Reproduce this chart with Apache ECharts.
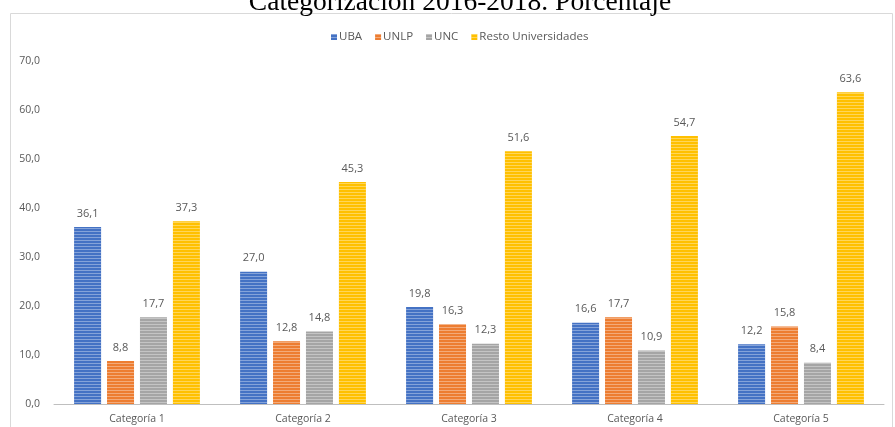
<!DOCTYPE html>
<html><head><meta charset="utf-8">
<script src="https://cdn.jsdelivr.net/npm/echarts@6/dist/echarts.min.js"></script>
<style>html,body{margin:0;padding:0;background:#fff}#c{width:895px;height:427px}</style>
</head><body><div id="c"></div>
<script>
const categories = ['Categoría 1','Categoría 2','Categoría 3','Categoría 4','Categoría 5'];
const seriesNames = ['UBA','UNLP','UNC','Resto Universidades'];
const uba = [36.1, 27.0, 19.8, 16.6, 12.2];
const unlp = [8.8, 12.8, 16.3, 17.7, 15.8];
const unc = [17.7, 14.8, 12.3, 10.9, 8.4];
const resto = [37.3, 45.3, 51.6, 54.7, 63.6];
const yTicks = [0,10,20,30,40,50,60,70];

const colors = ['#4472C4','#ED7D31','#A5A5A5','#FFC000'];
const values = [uba, unlp, unc, resto];
const fmt = v => v.toFixed(1).replace('.', ',');
const font = 'Open Sans';

const chart = echarts.init(document.getElementById('c'));
chart.setOption({
  animation: false,
  title: {text: 'Categorización 2016-2018. Porcentaje', left: 455, textAlign: 'center', top: -16,
    textStyle: {fontFamily: 'Liberation Serif', fontSize: 27.5, fontWeight: 'normal', color: '#000'}},
  graphic: [{type: 'rect', shape: {x: 10.5, y: 13.5, width: 882, height: 420},
    style: {fill: 'none', stroke: '#d9d9d9', lineWidth: 1}, z: -1}],
  legend: {top: 26, left: 326, itemWidth: 6, itemHeight: 6, itemGap: 13,
    icon: 'rect', textStyle: {fontFamily: font, fontSize: 11.5, color: '#595959', padding: [0,0,0,-3]},
    data: seriesNames},
  grid: {left: 54, right: 11, top: 61, bottom: 23, containLabel: false},
  xAxis: {type: 'category', data: categories,
    axisLine: {lineStyle: {color: '#bfbfbf'}}, axisTick: {show: false},
    axisLabel: {fontFamily: font, fontSize: 10.5, color: '#595959', margin: 10}},
  yAxis: {type: 'value', min: 0, max: 70, interval: 10,
    axisLine: {show: false}, axisTick: {show: false}, splitLine: {show: false},
    axisLabel: {fontFamily: font, fontSize: 10.5, color: '#595959', margin: 14,
      formatter: v => yTicks.includes(v) ? fmt(v) : ''}},
  series: seriesNames.map((n, i) => ({
    name: n, type: 'bar', data: values[i], barWidth: 27, barGap: '22%',
    itemStyle: {color: colors[i],
      decal: {symbol: 'rect', symbolSize: 1, dashArrayX: [[1, 0]], dashArrayY: [1, 2],
        color: 'rgba(255,255,255,0.35)', rotation: 0}},
    label: {show: true, position: 'top', distance: 8, fontFamily: font, fontSize: 11,
      color: '#595959', formatter: p => fmt(p.value)}
  }))
});
</script></body></html>
